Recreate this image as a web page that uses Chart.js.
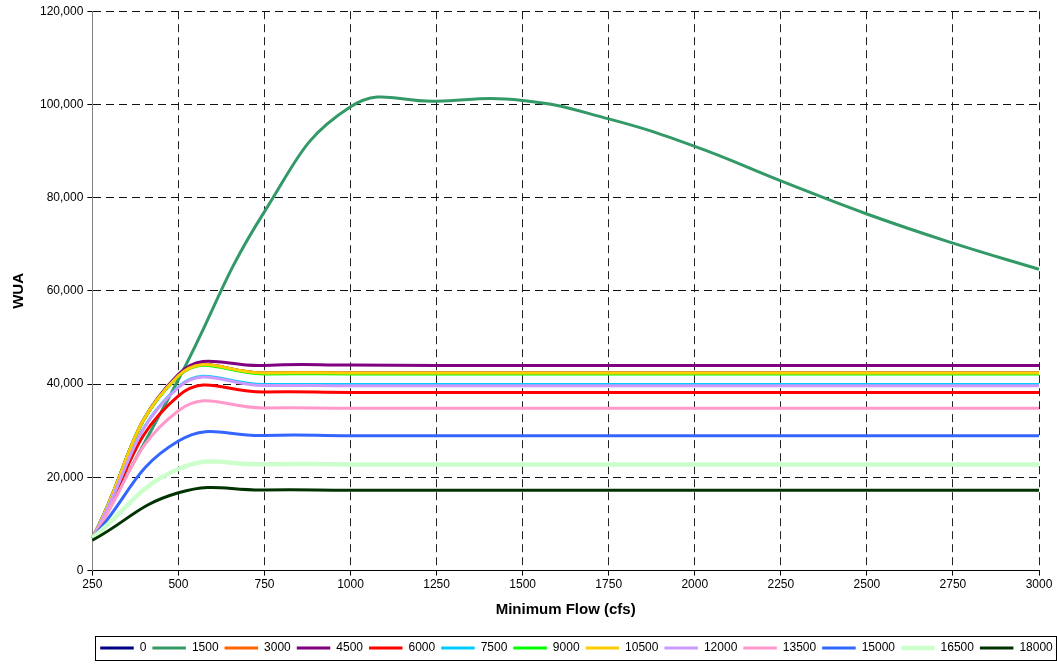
<!DOCTYPE html>
<html>
<head>
<meta charset="utf-8">
<script src="https://cdn.jsdelivr.net/npm/chart.js@4"></script>
<style>
  html, body { margin: 0; padding: 0; background: #fff; }
  #wrap { width: 1057px; height: 667px; }
</style>
</head>
<body>
<div id="wrap"><canvas id="canvas" width="1057" height="667"></canvas></div>
<script>
// minimum flow (cfs) on the x axis
const flows = [250, 500, 750, 1000, 1250, 1500, 1750, 2000, 2250, 2500, 2750, 3000];
const yTicks = [0, 20000, 40000, 60000, 80000, 100000, 120000];

// WUA for each series (hidden series sit under later ones)
const s0     = [7000, 41800, 42400, 42400, 42400, 42400, 42400, 42400, 42400, 42400, 42400, 42400];
const s1500  = [7000, 41000, 77000, 99500, 100700, 100850, 96900, 91000, 83600, 76500, 70250, 64650];
const s3000  = [7000, 41800, 42400, 42400, 42400, 42400, 42400, 42400, 42400, 42400, 42400, 42400];
const s4500  = [7000, 42100, 44000, 44100, 44000, 44000, 44000, 44000, 44000, 44000, 44000, 44000];
const s6000  = [7000, 37500, 38300, 38200, 38200, 38200, 38200, 38200, 38200, 38200, 38200, 38200];
const s7500  = [7000, 39400, 39900, 39900, 39900, 39900, 39900, 39900, 39900, 39900, 39900, 39900];
const s9000  = [7000, 41700, 42200, 42200, 42200, 42200, 42200, 42200, 42200, 42200, 42200, 42200];
const s10500 = [7000, 41800, 42400, 42400, 42400, 42400, 42400, 42400, 42400, 42400, 42400, 42400];
const s12000 = [7000, 39300, 39700, 39650, 39650, 39650, 39650, 39650, 39650, 39650, 39650, 39650];
const s13500 = [7000, 34300, 34900, 34850, 34850, 34850, 34850, 34850, 34850, 34850, 34850, 34850];
const s15000 = [7000, 27800, 29000, 28950, 28950, 28950, 28950, 28950, 28950, 28950, 28950, 28950];
const s16500 = [7000, 21800, 22800, 22780, 22780, 22780, 22780, 22780, 22780, 22780, 22780, 22780];
const s18000 = [6500, 16700, 17300, 17250, 17250, 17250, 17250, 17250, 17250, 17250, 17250, 17250];

const seriesNames = ['0', '1500', '3000', '4500', '6000', '7500', '9000', '10500', '12000', '13500', '15000', '16500', '18000'];
const seriesData = [s0, s1500, s3000, s4500, s6000, s7500, s9000, s10500, s12000, s13500, s15000, s16500, s18000];
const seriesColors = ['#000080', '#339966', '#FF6600', '#800080', '#FF0000', '#00CCFF', '#00FF00',
                      '#FFCC00', '#CC99FF', '#FF99CC', '#3366FF', '#CCFFCC', '#003300'];

const datasets = seriesNames.map(function(name, i) {
  return {
    label: name,
    data: seriesData[i],
    borderColor: seriesColors[i],
    backgroundColor: seriesColors[i],
    borderWidth: name === '16500' ? 4.5 : 3,
    pointRadius: 0,
    pointHoverRadius: 0,
    fill: false,
    tension: 0.45,
    order: -i   // later series drawn on top, as in the original
  };
});

// legend sits right of centre in the original, with a box round it
const legendBox = {
  id: 'legendBox',
  afterLayout: function(chart) {
    chart.legend.left += 52;
    chart.legend.right += 52;
  },
  afterDraw: function(chart) {
    const boxes = chart.legend.legendHitBoxes;
    if (!boxes || !boxes.length) return;
    const first = boxes[0], last = boxes[boxes.length - 1];
    const c = chart.ctx;
    c.save();
    c.strokeStyle = '#000';
    c.lineWidth = 1;
    c.strokeRect(Math.round(first.left - 5) + 0.5, Math.round(first.top - 6) + 0.5,
                 Math.round(last.left + last.width - first.left + 8), Math.round(first.height + 12));
    c.restore();
  }
};

Chart.defaults.font.family = '"Liberation Sans", Arial, sans-serif';
Chart.defaults.color = '#000';

var ctx = document.getElementById('canvas').getContext('2d');
var chart = new Chart(ctx, {
  type: 'line',
  data: { labels: flows, datasets: datasets },
  options: {
    responsive: false,
    animation: false,
    layout: { padding: { left: 10, right: 18, top: 4, bottom: 3 } },
    plugins: {
      tooltip: { enabled: false },
      legend: {
        position: 'bottom',
        labels: {
          usePointStyle: true,
          pointStyle: 'line',
          pointStyleWidth: 33.5,
          boxHeight: 12,
          padding: 6,
          font: { size: 12 },
          color: '#000',
          sort: function(a, b) { return a.datasetIndex - b.datasetIndex; }
        }
      }
    },
    scales: {
      x: {
        offset: false,
        border: { display: true, color: '#000', width: 1, dash: [8, 5] },
        grid: { color: '#222', tickBorderDash: [], tickColor: '#000', tickLength: 5 },
        ticks: { font: { size: 12 }, color: '#000', maxRotation: 0, padding: 2 },
        title: { display: true, text: 'Minimum Flow (cfs)', font: { size: 15, weight: 'bold' }, color: '#000', padding: { top: 7, bottom: 17 } }
      },
      y: {
        min: 0,
        max: 120000,
        afterBuildTicks: function(axis) { axis.ticks = yTicks.map(function(v) { return { value: v }; }); },
        border: { display: true, color: '#808080', width: 1, dash: [8, 5] },
        grid: { color: '#111', tickBorderDash: [], tickColor: '#000', tickLength: 5 },
        ticks: {
          font: { size: 12 }, color: '#000', padding: 4,
          callback: function(v) { return v.toLocaleString('en-US'); }
        },
        title: { display: true, text: 'WUA', font: { size: 15, weight: 'bold' }, color: '#000', padding: { top: 0, bottom: 8 } }
      }
    }
  },
  plugins: [legendBox]
});
</script>
</body>
</html>
